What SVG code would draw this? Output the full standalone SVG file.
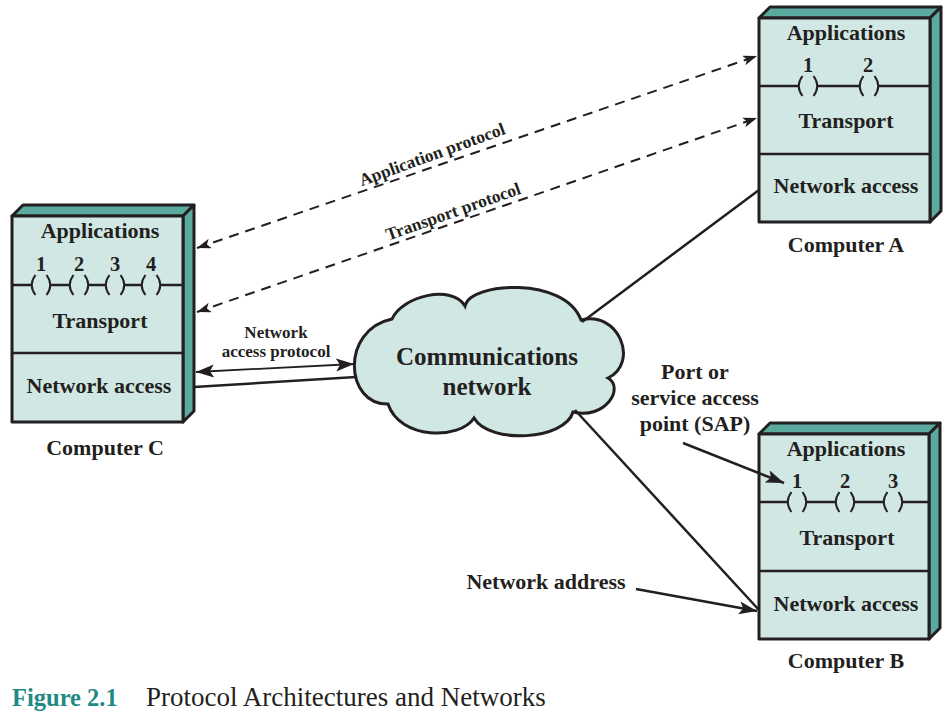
<svg xmlns="http://www.w3.org/2000/svg" width="949" height="715" viewBox="0 0 949 715">
<style>
.face{fill:#d0e7e3;stroke:#231f20;stroke-width:3;stroke-linejoin:round}
.side{fill:#5aaa9f;stroke:#231f20;stroke-width:3;stroke-linejoin:round}
.ln{fill:none;stroke:#231f20;stroke-width:2.5}
.par{fill:none;stroke:#231f20;stroke-width:2}
.t{font-family:"Liberation Serif","Times New Roman",serif;font-weight:bold;fill:#231f20;text-anchor:middle}
.big{font-size:22px}
.num{font-size:20.5px}
.small{font-size:17px}
.conn{fill:none;stroke:#231f20;stroke-width:2.5}
.dash{fill:none;stroke:#231f20;stroke-width:2;stroke-dasharray:10 7}
.thin{fill:none;stroke:#231f20;stroke-width:1.8}
</style>
<defs>
<path id="port" d="M-5.5,-10 Q-13,0 -5.5,10 M5.5,-10 Q13,0 5.5,10" class="par"/>
<marker id="ah" markerUnits="userSpaceOnUse" markerWidth="20" markerHeight="14" refX="18" refY="6.5" orient="auto-start-reverse">
<path d="M0,0 L18,6.5 L0,13 L4,6.5 z" fill="#231f20"/>
</marker>
<marker id="ad" markerUnits="userSpaceOnUse" markerWidth="16" markerHeight="12" refX="14" refY="5" orient="auto-start-reverse">
<path d="M0,0 L14,5 L0,10 L3.5,5 z" fill="#231f20"/>
</marker>
</defs>

<g id="cloud">
<path d="M388,404 C345,405 340,330 392,319 C402,296 452,284 465,306 C470,282 565,276 581,320 C618,310 640,362 608,378 C625,388 605,420 573,412 C565,440 490,445 474,418 C460,440 400,440 388,404 Z" fill="#d0e7e3" stroke="#231f20" stroke-width="3"/>
<text class="t" x="487" y="365" font-size="25">Communications</text>
<text class="t" x="487" y="395" font-size="25">network</text>
</g>

<g id="computerA">
<polygon class="side" points="759,18 770,7 941,7 930,18"/>
<polygon class="side" points="930,18 941,7 941,211 930,222"/>
<rect class="face" x="759" y="18" width="171" height="204"/>
<path class="ln" d="M759,86 H798.5 M817.5,86 H859.5 M878.5,86 H930"/>
<use href="#port" x="808" y="86"/>
<use href="#port" x="869" y="86"/>
<line class="ln" x1="759" y1="154" x2="930" y2="154"/>
<text class="t big" x="846" y="40">Applications</text>
<text class="t num" x="808" y="72">1</text>
<text class="t num" x="868" y="72">2</text>
<text class="t big" x="846" y="128">Transport</text>
<text class="t big" x="846" y="193">Network access</text>
<text class="t big" x="846" y="252">Computer A</text>
</g>

<g id="computerC">
<polygon class="side" points="12,216 23,205 194,205 183,216"/>
<polygon class="side" points="183,216 194,205 194,411 183,422"/>
<rect class="face" x="12" y="216" width="171" height="206"/>
<path class="ln" d="M12,285 H31.5 M50.5,285 H69.5 M88.5,285 H105.5 M124.5,285 H141.5 M160.5,285 H183"/>
<use href="#port" x="41" y="285"/>
<use href="#port" x="79" y="285"/>
<use href="#port" x="115" y="285"/>
<use href="#port" x="151" y="285"/>
<line class="ln" x1="12" y1="353" x2="183" y2="353"/>
<text class="t big" x="100" y="238">Applications</text>
<text class="t num" x="41" y="271">1</text>
<text class="t num" x="79" y="271">2</text>
<text class="t num" x="115" y="271">3</text>
<text class="t num" x="151" y="271">4</text>
<text class="t big" x="100" y="328">Transport</text>
<text class="t big" x="99" y="393">Network access</text>
<text class="t big" x="105" y="455">Computer C</text>
</g>

<g id="computerB">
<polygon class="side" points="759,434 770,423 940,423 929,434"/>
<polygon class="side" points="929,434 940,423 940,628 929,639"/>
<rect class="face" x="759" y="434" width="170" height="205"/>
<path class="ln" d="M759,502 H787.5 M806.5,502 H835.5 M854.5,502 H883.5 M902.5,502 H929"/>
<use href="#port" x="797" y="502"/>
<use href="#port" x="845" y="502"/>
<use href="#port" x="893" y="502"/>
<line class="ln" x1="759" y1="571" x2="929" y2="571"/>
<text class="t big" x="846" y="456">Applications</text>
<text class="t num" x="797" y="488">1</text>
<text class="t num" x="845" y="488">2</text>
<text class="t num" x="893" y="488">3</text>
<text class="t big" x="847" y="545">Transport</text>
<text class="t big" x="846" y="611">Network access</text>
<text class="t big" x="846" y="668">Computer B</text>
</g>

<g id="connectors">
<line class="conn" x1="582" y1="322" x2="759" y2="190"/>
<line class="conn" x1="575" y1="410" x2="759" y2="610"/>
<line class="conn" x1="194" y1="387" x2="356" y2="377"/>
<line class="thin" x1="196" y1="372" x2="354" y2="364" marker-start="url(#ah)" marker-end="url(#ah)"/>
<line class="dash" x1="197" y1="248" x2="757" y2="56" marker-start="url(#ad)" marker-end="url(#ad)"/>
<line class="dash" x1="197" y1="312" x2="757" y2="118" marker-start="url(#ad)" marker-end="url(#ad)"/>
<line class="conn" x1="636" y1="589" x2="757" y2="611" marker-end="url(#ah)"/>
<line class="conn" x1="683" y1="443" x2="784" y2="483" marker-end="url(#ah)"/>
</g>

<g id="labels">
<text class="t" font-size="17.5px" transform="translate(434,160) rotate(-20)" x="0" y="0">Application protocol</text>
<text class="t" font-size="17.5px" transform="translate(455,217) rotate(-19.5)" x="0" y="0">Transport protocol</text>
<text class="t small" x="276" y="338">Network</text>
<text class="t small" x="276" y="357">access protocol</text>
<text class="t big" x="695" y="379">Port or</text>
<text class="t big" x="695" y="405">service access</text>
<text class="t big" x="695" y="431">point (SAP)</text>
<text class="t big" x="546" y="589">Network address</text>
</g>

<g id="caption">
<text x="12" y="706" font-family="'Liberation Serif','Times New Roman',serif" font-weight="bold" font-size="24.5px" fill="#1f8a84">Figure 2.1</text>
<text x="146" y="706" font-family="'Liberation Serif','Times New Roman',serif" font-size="27px" fill="#231f20">Protocol Architectures and Networks</text>
</g>
</svg>
